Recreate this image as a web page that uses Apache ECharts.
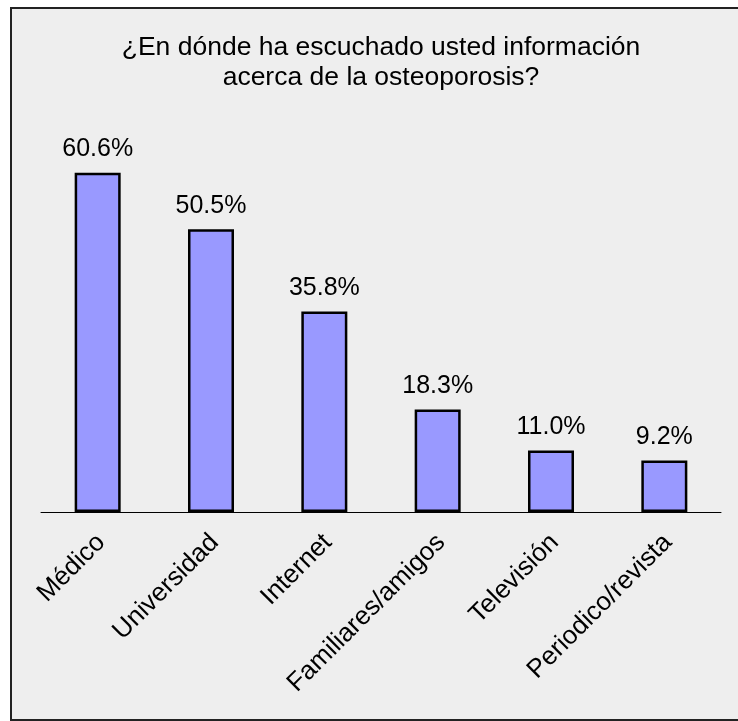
<!DOCTYPE html>
<html>
<head>
<meta charset="utf-8">
<title>Osteoporosis</title>
<script src="https://cdn.jsdelivr.net/npm/echarts@6/dist/echarts.min.js"></script>
<style>
  html, body { margin: 0; padding: 0; background: #ffffff; }
  #chart { width: 738px; height: 721px; }
</style>
</head>
<body>
<div id="chart"></div>
<script>
// Source categories and survey percentages
const categories = ['Médico', 'Universidad', 'Internet', 'Familiares/amigos', 'Televisión', 'Periodico/revista'];
const percentages = [60.6, 50.5, 35.8, 18.3, 11.0, 9.2];
const titleLines = ['¿En dónde ha escuchado usted información', 'acerca de la osteoporosis?'];

const chart = echarts.init(document.getElementById('chart'), null, { renderer: 'canvas' });
const font = '"Liberation Sans", Arial, sans-serif';

chart.setOption({
  backgroundColor: '#ffffff',
  animation: false,
  graphic: [{
    type: 'rect',
    z: -10,
    silent: true,
    shape: { x: 11, y: 8, width: 740, height: 712 },
    style: { fill: '#eeeeee', stroke: '#222222', lineWidth: 2 }
  }],
  title: {
    text: titleLines.join('\n'),
    left: 376,
    textAlign: 'center',
    top: 28,
    textStyle: {
      fontFamily: font,
      fontSize: 26.5,
      fontWeight: 'normal',
      color: '#000000',
      lineHeight: 30
    }
  },
  grid: { left: 41, right: 17, top: 120, bottom: 209, containLabel: false },
  xAxis: {
    type: 'category',
    data: categories,
    axisLine: { lineStyle: { color: '#000000', width: 1 } },
    axisTick: { show: false },
    axisLabel: {
      interval: 0,
      rotate: 45,
      margin: 30,
      padding: [0, -5, 0, 0],
      fontFamily: font,
      fontSize: 26,
      color: '#000000'
    }
  },
  yAxis: {
    type: 'value',
    min: 0,
    max: 70,
    show: false,
    splitLine: { show: false }
  },
  series: [{
    type: 'bar',
    data: percentages,
    barWidth: 46,
    itemStyle: { color: '#9999ff', borderColor: '#000000', borderWidth: 2.5 },
    label: {
      show: true,
      position: 'top',
      distance: 11,
      formatter: p => p.value.toFixed(1) + '%',
      fontFamily: font,
      fontSize: 25,
      color: '#000000'
    }
  }]
});
</script>
</body>
</html>
